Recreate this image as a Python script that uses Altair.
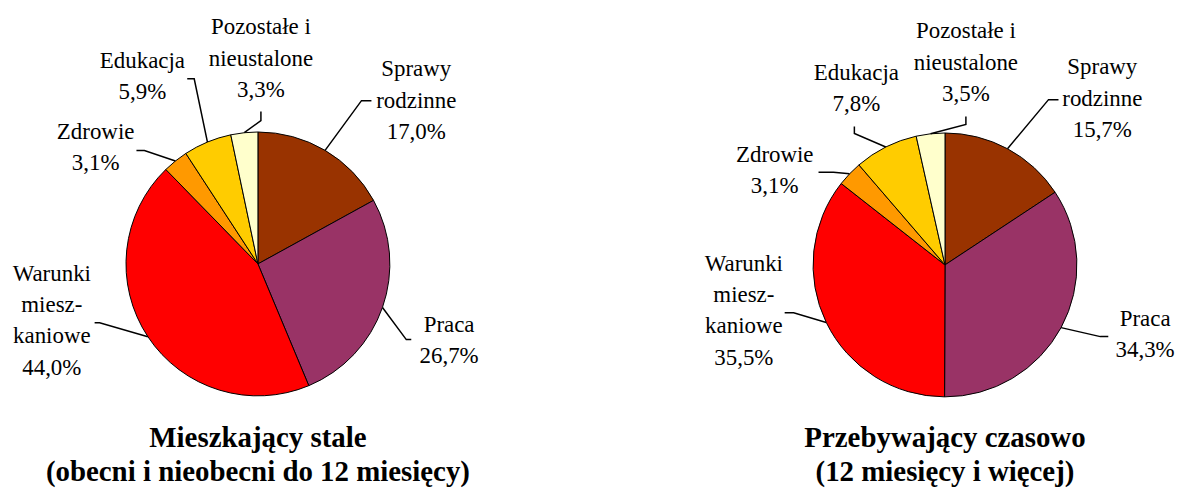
import altair as alt
import pandas as pd
import numpy as np

# ---------------- data ----------------
categories = ["Sprawy rodzinne", "Praca", "Warunki mieszkaniowe",
              "Zdrowie", "Edukacja", "Pozostałe i nieustalone"]
label_lines = [["Sprawy", "rodzinne"], ["Praca"], ["Warunki", "miesz-", "kaniowe"],
               ["Zdrowie"], ["Edukacja"], ["Pozostałe i", "nieustalone"]]
stale_values = [17.0, 26.7, 44.0, 3.1, 5.9, 3.3]
czasowo_values = [15.7, 34.3, 35.5, 3.1, 7.8, 3.5]
panel_titles = [["Mieszkający stale", "(obecni i nieobecni do 12 miesięcy)"],
                ["Przebywający czasowo", "(12 miesięcy i więcej)"]]
colors = ["#993300", "#993366", "#FF0000", "#FF9900", "#FFCC00", "#FFFFCC"]

# ---------------- layout (pixels, plot-area coordinates) ----------------
W, H = 1167, 472
R = 132.5
LH = 31.5
centers = [(251, 256), (941, 257)]
# label block centre offsets from pie centre
label_off = [
    [(159, -164), (192, 77), (-207, 57), (-163, -117), (-116, -188), (3, -206)],
    [(158, -167), (201, 70), (-202, 46), (-171, -95), (-89, -177), (21, -203)],
]
# leader-line elbow and end offsets from pie centre
elbow_off = [
    [(104, -164), (149, 76), (-159, 59), (-114, -114), (-64, -186), (3, -144)],
    [(104, -166), (156, 72), (-152, 48), (-112, -93), (-91, -132), (21, -141)],
]
end_off = [
    [(114, -164), (154, 76), (-164, 59), (-122, -114), (-71, -186), (3, -153)],
    [(114, -166), (164, 72), (-161, 48), (-127, -93), (-91, -139), (21, -149)],
]
title_y = 440
title_lh = 34
FONT = "Liberation Serif"

color_scale = alt.Scale(domain=categories, range=colors)

layers = []
for p, vals in enumerate([stale_values, czasowo_values]):
    cx, cy = centers[p]
    df = pd.DataFrame({"cat": categories, "value": vals, "idx": range(len(vals))})
    arc = alt.Chart(df).mark_arc(outerRadius=R, stroke="black", strokeWidth=1).encode(
        theta=alt.Theta("value:Q", stack=True),
        color=alt.Color("cat:N", scale=color_scale, legend=None),
        order=alt.Order("idx:Q"),
        x=alt.value(cx), y=alt.value(cy),
    )
    layers.append(arc)

    v = np.array(vals)
    total = v.sum()
    mid = (np.cumsum(v) - v / 2) / total * 2 * np.pi

    # labels: one row per text line
    rows = []
    for i, c in enumerate(categories):
        pct = f"{vals[i]:.1f}".replace(".", ",") + "%"
        lines_i = label_lines[i] + [pct]
        n = len(lines_i)
        for j, t in enumerate(lines_i):
            rows.append({"cat": c, "txt": t,
                         "px": cx + label_off[p][i][0],
                         "py": cy + label_off[p][i][1] + (j - (n - 1) / 2) * LH})
    lab = alt.Chart(pd.DataFrame(rows)).mark_text(
        font=FONT, fontSize=23, align="center", baseline="middle", color="black"
    ).encode(x=alt.X("px:Q", scale=None), y=alt.Y("py:Q", scale=None), text="txt:N")
    layers.append(lab)

    # leader lines
    lrows = []
    for i, c in enumerate(categories):
        sx = cx + R * np.sin(mid[i])
        sy = cy - R * np.cos(mid[i])
        pts = [(sx, sy),
               (cx + elbow_off[p][i][0], cy + elbow_off[p][i][1]),
               (cx + end_off[p][i][0], cy + end_off[p][i][1])]
        for k, (px, py) in enumerate(pts):
            lrows.append({"cat": c, "k": k, "px": px, "py": py})
    lines = alt.Chart(pd.DataFrame(lrows)).mark_line(color="black", strokeWidth=1.5).encode(
        x=alt.X("px:Q", scale=None), y=alt.Y("py:Q", scale=None),
        detail="cat:N", order="k:Q")
    layers.append(lines)

    # panel title, one row per line
    tdf = pd.DataFrame({"txt": panel_titles[p], "px": [cx, cx],
                        "py": [title_y, title_y + title_lh]})
    tt = alt.Chart(tdf).mark_text(font=FONT, fontSize=29, fontWeight="bold",
                                  align="center", baseline="alphabetic",
                                  color="black").encode(
        x=alt.X("px:Q", scale=None), y=alt.Y("py:Q", scale=None), text="txt:N")
    layers.append(tt)

chart = alt.layer(*layers).resolve_scale(theta="independent").properties(
    width=W, height=H, padding=0, background="white"
).configure_view(strokeOpacity=0)

chart.save("out.html", embed_options={"renderer": "svg", "actions": False})
